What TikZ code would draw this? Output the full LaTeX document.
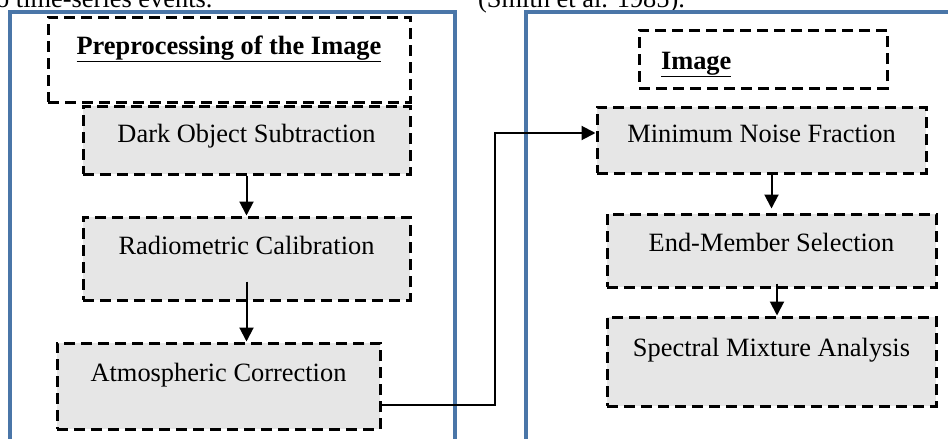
\documentclass[tikz,border=0pt]{standalone}
\usepackage{fontspec}
\setmainfont{Liberation Serif}
\usetikzlibrary{arrows.meta}
\definecolor{panelblue}{RGB}{74,118,168}
\definecolor{boxgray}{RGB}{230,230,230}
\begin{document}
\begin{tikzpicture}[x=1pt,y=-1pt,
  every node/.style={font=\fontsize{26.4pt}{30pt}\selectfont},
  dbox/.style={draw=black, line width=3pt, dash pattern=on 11pt off 6pt, inner sep=0pt, rectangle},
  proc/.style={dbox, fill=boxgray},
  panel/.style={draw=panelblue, line width=4pt},
  conn/.style={line width=2pt, -{Triangle[length=14pt,width=14pt]}}]
\useasboundingbox (0,0) rectangle (948,439);
\clip (0,0) rectangle (948,439);
% surrounding text, cut by the top edge
\node[anchor=base west, inner sep=0pt] (top1) at (-4,7.5) {o time-series events.};
\node[anchor=base west, inner sep=0pt] (top2) at (478,7.5) {(Smith et al. 1985).};
% panels
\draw[panel] (10,460) -- (10,12) -- (455,12) -- (455,460);
\draw[panel] (526,460) -- (526,12) -- (970,12);
% left column
\node[dbox, minimum width=362pt, text height=37pt, text depth=48pt] (t1) at (229,59.5) {\underline{\textbf{Preprocessing of the Image}}};
\node[proc, minimum width=327pt, text height=36pt, text depth=32pt] (dos) at (246.5,140) {Dark Object Subtraction};
\node[proc, minimum width=327pt, text height=37pt, text depth=46pt] (rc) at (246.5,258.5) {Radiometric Calibration};
\node[proc, minimum width=323pt, text height=38pt, text depth=48pt] (ac) at (218.5,386) {Atmospheric Correction};
% right column
\node[dbox, inner xsep=22pt, text width=204pt, align=left, text height=39pt, text depth=19pt] (t2) at (763,59) {\underline{\textbf{Image}}};
\node[proc, minimum width=329pt, text height=35pt, text depth=31pt] (mnf) at (761.5,140) {Minimum Noise Fraction};
\node[proc, minimum width=329pt, text height=37pt, text depth=36pt] (ems) at (771.5,250.5) {End-Member Selection};
\node[proc, minimum width=329pt, text height=39pt, text depth=50pt] (sma) at (771.5,361.5) {Spectral Mixture Analysis};
% connectors
\draw[conn] (dos.south) -- (rc.north);
\draw[conn] ([yshift=20pt]rc.south) -- (rc.south |- ac.north);
\draw[conn, shorten >=4pt] (mnf.south -| ems.north) -- (ems.north);
\draw[conn] ([xshift=5.5pt,yshift=5pt]ems.south) -- ([xshift=5.5pt]sma.north);
\draw[conn] ([yshift=-19pt]ac.east) -- ++(113,0) |- ([yshift=7pt]mnf.west);
\end{tikzpicture}
\end{document}
